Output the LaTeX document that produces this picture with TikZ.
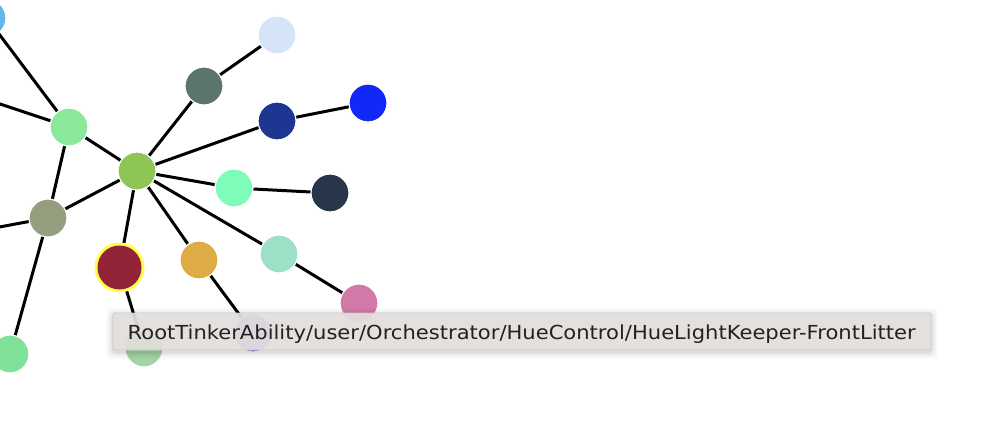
\documentclass[tikz,border=0pt]{standalone}
\usepackage{fontspec}
\setmainfont{DejaVu Sans}
\begin{document}
\begin{tikzpicture}[x=1pt,y=-1pt,
  nd/.style={circle,inner sep=0pt,minimum size=38pt,draw=white,line width=1.2pt},
  ed/.style={line width=3pt,black},
  tipbox/.style={rounded corners=2.5pt,fill=tipfill,draw=tipline,line width=0.8pt,fill opacity=0.93}]
\definecolor{cTL}{HTML}{63B7EA}
\definecolor{cA}{HTML}{8AE89A}
\definecolor{cB}{HTML}{8DC654}
\definecolor{cC}{HTML}{969E80}
\definecolor{cD}{HTML}{80E29A}
\definecolor{cE}{HTML}{5B756A}
\definecolor{cF}{HTML}{D6E4FA}
\definecolor{cG}{HTML}{1C3692}
\definecolor{cH}{HTML}{1228F8}
\definecolor{cI}{HTML}{7FFCB9}
\definecolor{cJ}{HTML}{28364A}
\definecolor{cK}{HTML}{9DE0C6}
\definecolor{cL}{HTML}{D279A8}
\definecolor{cM}{HTML}{DFAB44}
\definecolor{cN}{HTML}{922338}
\definecolor{cRing}{HTML}{FFFF4D}
\definecolor{cO}{HTML}{A3D5A7}
\definecolor{cP}{HTML}{7B6FD8}
\definecolor{tipfill}{HTML}{E4E0DE}
\definecolor{tipline}{HTML}{CFCBC9}
\definecolor{tiptext}{HTML}{222222}
\useasboundingbox (0,0) rectangle (992,446);
\begin{scope}
\clip (0,0) rectangle (992,446);
% off-screen endpoints
\coordinate (offTL) at (10,-40);
\coordinate (offA) at (-60,84);
\coordinate (offC) at (-60,238);
\coordinate (offD) at (-30,400);
% node positions
\coordinate (pTL) at (-13,18);
\coordinate (pA) at (69,127);
\coordinate (pB) at (137,171);
\coordinate (pC) at (48,218);
\coordinate (pD) at (10,354);
\coordinate (pE) at (204,86);
\coordinate (pF) at (277,35);
\coordinate (pG) at (277,121);
\coordinate (pH) at (368,103);
\coordinate (pI) at (234,188);
\coordinate (pJ) at (330,193);
\coordinate (pK) at (279,254);
\coordinate (pL) at (359,303);
\coordinate (pM) at (199,260);
\coordinate (pN) at (119.5,267.5);
\coordinate (pO) at (144,348);
\coordinate (pP) at (253,333);
% edges
\draw[ed] (pTL) -- (offTL);
\draw[ed] (pTL) -- (pA);
\draw[ed] (offA) -- (pA);
\draw[ed] (offC) -- (pC);
\draw[ed] (pD) -- (offD);
\draw[ed] (pA) -- (pC);
\draw[ed] (pA) -- (pB);
\draw[ed] (pC) -- (pB);
\draw[ed] (pC) -- (pD);
\draw[ed] (pB) -- (pE);
\draw[ed] (pB) -- (pG);
\draw[ed] (pB) -- (pI);
\draw[ed] (pB) -- (pK);
\draw[ed] (pB) -- (pM);
\draw[ed] (pB) -- (pN);
\draw[ed] (pE) -- (pF);
\draw[ed] (pG) -- (pH);
\draw[ed] (pI) -- (pJ);
\draw[ed] (pK) -- (pL);
\draw[ed] (pN) -- (pO);
\draw[ed] (pM) -- (pP);
% nodes
\node[nd,fill=cTL] (TL) at (pTL) {};
\node[nd,fill=cA] (A) at (pA) {};
\node[nd,fill=cB] (B) at (pB) {};
\node[nd,fill=cC] (C) at (pC) {};
\node[nd,fill=cD] (D) at (pD) {};
\node[nd,fill=cE] (E) at (pE) {};
\node[nd,fill=cF] (F) at (pF) {};
\node[nd,fill=cG] (G) at (pG) {};
\node[nd,fill=cH] (H) at (pH) {};
\node[nd,fill=cI] (I) at (pI) {};
\node[nd,fill=cJ] (J) at (pJ) {};
\node[nd,fill=cK] (K) at (pK) {};
\node[nd,fill=cL] (L) at (pL) {};
\node[nd,fill=cM] (M) at (pM) {};
\node[nd,fill=cO] (O) at (pO) {};
\node[nd,fill=cP] (P) at (pP) {};
\node[circle,inner sep=0pt,minimum size=50pt,fill=cRing] (Nring) at (pN) {};
\node[circle,inner sep=0pt,minimum size=44pt,fill=cN] (N) at (pN) {};
% tooltip shadow
\foreach \d/\o in {7/0.02,5/0.03,3/0.04,1.5/0.05}{
  \fill[black,opacity=\o,rounded corners=4pt] (113-\d,313-\d+2) rectangle (931+\d,350+\d+2);
}
\draw[tipbox] (113,313) rectangle (931,350);
\node[anchor=base west,inner sep=0pt,text=tiptext,font=\fontsize{19.3}{22}\selectfont] (tip) at (127.5,339.5) {\resizebox{788pt}{\height}{RootTinkerAbility/user/Orchestrator/HueControl/HueLightKeeper-FrontLitter}};
\end{scope}
\end{tikzpicture}
\end{document}
